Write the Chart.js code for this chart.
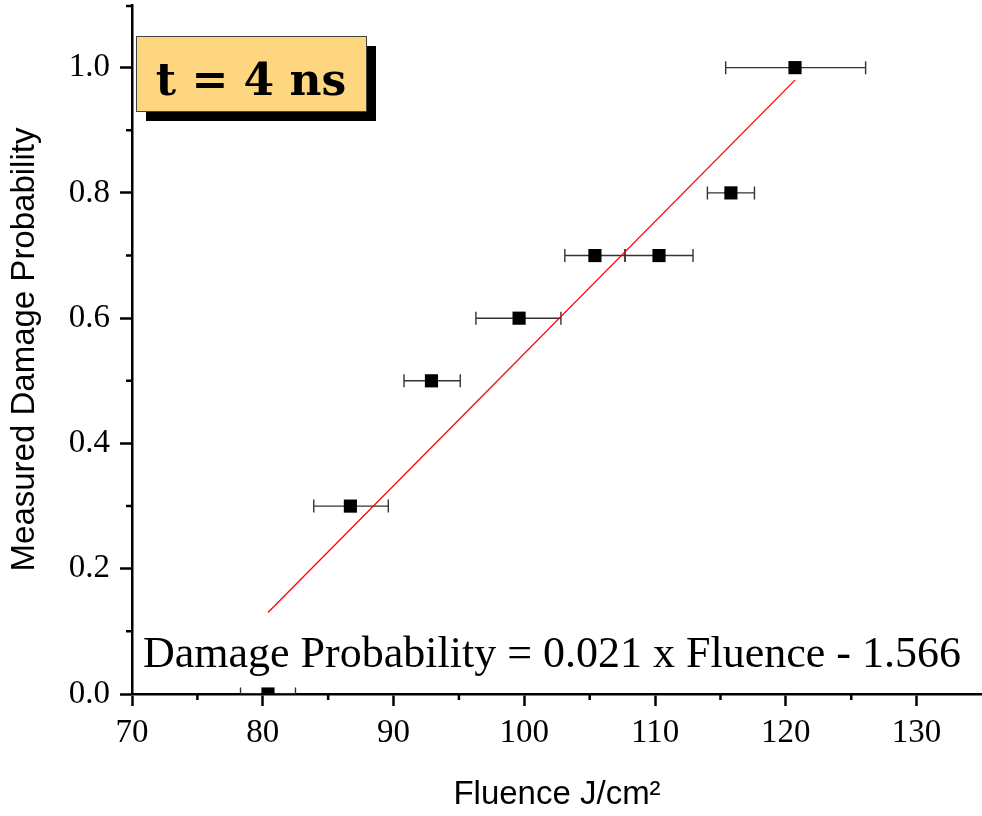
<!DOCTYPE html>
<html>
<head>
<meta charset="utf-8">
<script src="https://cdn.jsdelivr.net/npm/chart.js@4.4.1/dist/chart.umd.min.js"></script>
<style>
  html, body { margin: 0; padding: 0; background: #fff; }
  #wrap { width: 982px; height: 816px; }
</style>
</head>
<body>
<div id="wrap"><canvas id="damageChart"></canvas></div>
<script>
  // measured points: fluence (J/cm2) vs damage probability, with x error bars
  const fluence = [80.4, 86.7, 92.9, 99.6, 105.4, 110.3, 115.8, 120.7];
  const probability = [0.0, 0.3, 0.5, 0.6, 0.7, 0.7, 0.8, 1.0];
  const fluenceLow = [78.3, 83.9, 90.8, 96.3, 103.1, 107.7, 114.0, 115.4];
  const fluenceHigh = [82.5, 89.6, 95.1, 102.8, 107.7, 112.9, 117.6, 126.1];

  // linear fit, end points
  const fitFluence = [80.4, 120.7];
  const fitProbability = [0.13, 0.98];

  const xTickValues = [70, 80, 90, 100, 110, 120, 130];
  const yTickValues = [0.0, 0.2, 0.4, 0.6, 0.8, 1.0];
  const xMinorTicks = [75, 85, 95, 105, 115, 125];
  const yMinorTicks = [0.1, 0.3, 0.5, 0.7, 0.9, 1.1];

  const fitLabel = "Damage Probability = 0.021 x Fluence - 1.566";
  const boxLabel = "t = 4 ns";

  const errorBars = {
    id: "errorBars",
    beforeDatasetsDraw(chart) {
      const { ctx, chartArea, scales: { x, y } } = chart;
      ctx.save();
      ctx.beginPath();
      ctx.rect(chartArea.left, chartArea.top, chartArea.width, chartArea.height);
      ctx.clip();
      ctx.strokeStyle = "#333";
      ctx.lineWidth = 1.4;
      fluence.forEach((f, i) => {
        const py = y.getPixelForValue(probability[i]);
        const x0 = x.getPixelForValue(fluenceLow[i]);
        const x1 = x.getPixelForValue(fluenceHigh[i]);
        ctx.beginPath();
        ctx.moveTo(x0, py); ctx.lineTo(x1, py);
        ctx.moveTo(x0, py - 6.5); ctx.lineTo(x0, py + 6.5);
        ctx.moveTo(x1, py - 6.5); ctx.lineTo(x1, py + 6.5);
        ctx.stroke();
      });
      ctx.restore();
    }
  };

  const extras = {
    id: "extras",
    afterDraw(chart) {
      const { ctx, chartArea, scales: { x, y } } = chart;
      ctx.save();
      // minor ticks
      ctx.strokeStyle = "#000";
      ctx.lineWidth = 2.5;
      ctx.beginPath();
      xMinorTicks.forEach(v => {
        const px = x.getPixelForValue(v);
        ctx.moveTo(px, chartArea.bottom); ctx.lineTo(px, chartArea.bottom + 6);
      });
      yMinorTicks.forEach(v => {
        const py = Math.max(y.getPixelForValue(v), chartArea.top + 1);
        ctx.moveTo(chartArea.left, py); ctx.lineTo(chartArea.left - 6, py);
      });
      ctx.stroke();

      // fit equation
      ctx.fillStyle = "#000";
      ctx.font = "44px 'Liberation Serif'";
      ctx.textBaseline = "alphabetic";
      ctx.textAlign = "left";
      ctx.fillText(fitLabel, chartArea.left + 11, chartArea.bottom - 27);

      // "t = 4 ns" box with shadow
      const bx = chartArea.left + 4, by = chartArea.top + 31, bw = 230, bh = 75;
      ctx.fillStyle = "#000";
      ctx.fillRect(bx + 10, by + 10, bw, bh);
      ctx.fillStyle = "#FDD67F";
      ctx.fillRect(bx, by, bw, bh);
      ctx.strokeStyle = "#444";
      ctx.lineWidth = 1;
      ctx.strokeRect(bx + 0.5, by + 0.5, bw, bh);
      ctx.fillStyle = "#000";
      ctx.font = "bold 44px 'DejaVu Serif'";
      ctx.textAlign = "center";
      ctx.fillText(boxLabel, bx + bw / 2, by + 59);
      ctx.restore();
    }
  };

  // keep the plot area fixed: no extra room for overhanging tick labels
  function fixScale(s, size) {
    if (s.isHorizontal()) s.height = size; else s.width = size;
    s.paddingTop = 0; s.paddingBottom = 0; s.paddingLeft = 0; s.paddingRight = 0;
  }

  function createChart() {
    const ctx = document.getElementById("damageChart").getContext("2d");
    const points = fluence.map((f, i) => ({ x: f, y: probability[i] }));
    const fitPoints = fitFluence.map((f, i) => ({ x: f, y: fitProbability[i] }));
    const tickFont = { family: "'Liberation Serif'", size: 33 };
    const titleFont = { family: "'Liberation Sans'", size: 33 };

    new Chart(ctx, {
      type: "scatter",
      data: {
        datasets: [
          {
            label: "Measured",
            data: points,
            pointStyle: "rect",
            pointRadius: 9.3,
            pointHoverRadius: 9.3,
            backgroundColor: "#000",
            borderColor: "#000",
            borderWidth: 0,
            clip: 0,
            order: 0,
          },
          {
            type: "line",
            label: "Fit",
            data: fitPoints,
            borderColor: "#ff0000",
            borderWidth: 1.3,
            pointRadius: 0,
            fill: false,
            order: 1,
          },
        ],
      },
      options: {
        responsive: true,
        maintainAspectRatio: false,
        animation: false,
        layout: { autoPadding: false, padding: { top: 5, right: 0, left: 0, bottom: 0 } },
        plugins: { legend: { display: false }, tooltip: { enabled: false } },
        scales: {
          x: {
            type: "linear",
            min: 70,
            max: 135,
            afterBuildTicks: s => { s.ticks = xTickValues.map(v => ({ value: v })); },
            afterFit: s => fixScale(s, 122),
            ticks: { font: tickFont, color: "#000", padding: 8, maxRotation: 0, autoSkip: false },
            grid: { drawOnChartArea: false, drawTicks: true, tickLength: 12, tickWidth: 2.5, tickColor: "#000" },
            border: { color: "#000", width: 2.5 },
            title: { display: true, text: "Fluence J/cm²", font: titleFont, color: "#000", padding: { top: 0, bottom: 1 } },
          },
          y: {
            type: "linear",
            min: 0,
            max: 1.1,
            afterBuildTicks: s => { s.ticks = yTickValues.map(v => ({ value: v })); },
            afterFit: s => fixScale(s, 132),
            ticks: { font: tickFont, color: "#000", padding: 10, callback: v => Number(v).toFixed(1) },
            grid: { drawOnChartArea: false, drawTicks: true, tickLength: 12, tickWidth: 2.5, tickColor: "#000" },
            border: { color: "#000", width: 2.5 },
            title: { display: true, text: "Measured Damage Probability", font: titleFont, color: "#000", padding: { top: 5, bottom: 0 } },
          },
        },
      },
      plugins: [errorBars, extras],
    });
  }

  createChart();
</script>
</body>
</html>
